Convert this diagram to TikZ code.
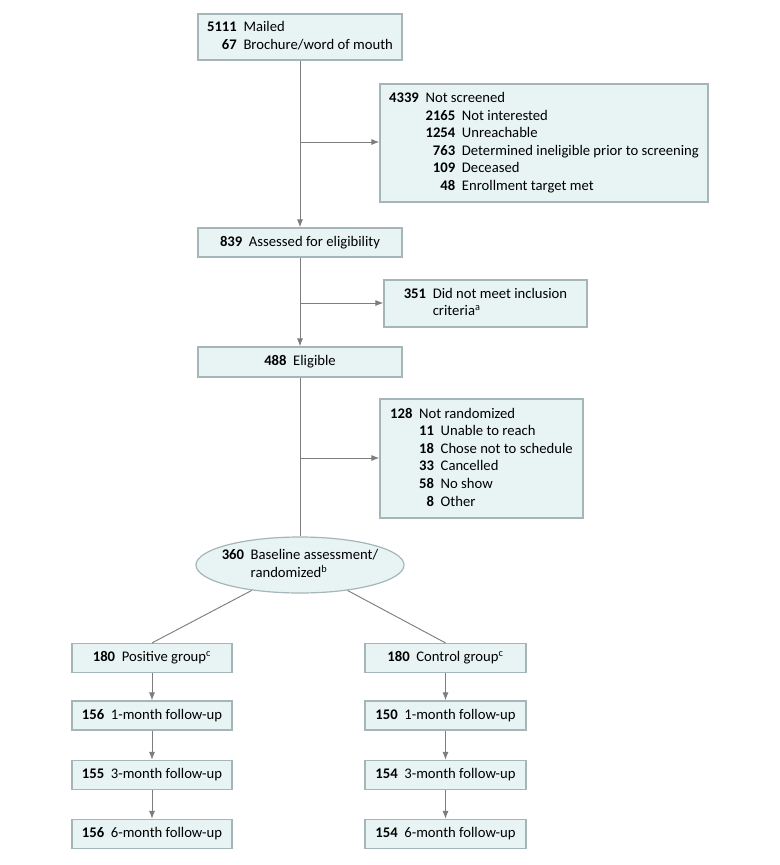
\documentclass[tikz,border=0pt]{standalone}
\usepackage{fontspec}
\setmainfont{Carlito}
\usetikzlibrary{arrows.meta,shapes.geometric}
\definecolor{boxfill}{RGB}{232,244,244}
\definecolor{boxline}{RGB}{165,182,184}
\definecolor{connc}{RGB}{125,125,125}
\begin{document}
\begin{tikzpicture}[x=0.75pt,y=-0.75pt,
  font=\fontsize{11}{13.2}\selectfont,
  box/.style={draw=boxline, fill=boxfill, line width=0.9pt, inner sep=0pt, align=center},
  bx/.style 2 args={box, minimum width=#1*0.75pt, minimum height=#2*0.75pt},
  conn/.style={draw=connc, line width=0.7pt},
  arr/.style={conn, -{Latex[length=6pt,width=4.5pt]}}]
\useasboundingbox (0,0) rectangle (780,865);

\node[bx={204}{46}] (mail) at (300,37) {\begin{tabular}{@{}r@{\hspace{5pt}}l@{}}\textbf{5111} & Mailed\\ \textbf{67} & Brochure/word of mouth\end{tabular}};

\node[bx={328}{118}] (notscr) at (544,143) {\begin{tabular}{@{}r@{\hspace{5pt}}r@{\hspace{5pt}}l@{}}
\textbf{4339} & \multicolumn{2}{@{}l@{}}{Not screened}\\
 & \textbf{2165} & Not interested\\
 & \textbf{1254} & Unreachable\\
 & \textbf{763} & Determined ineligible prior to screening\\
 & \textbf{109} & Deceased\\
 & \textbf{48} & Enrollment target met
\end{tabular}};

\node[bx={204}{29}] (assess) at (300,242.5) {\textbf{839}\hspace{5pt}Assessed for eligibility};

\node[bx={203}{47}] (dnm) at (485.5,303.5) {\begin{tabular}{@{}r@{\hspace{5pt}}l@{}}\textbf{351} & Did not meet inclusion\\ & criteria\textsuperscript{a}\end{tabular}};

\node[bx={204}{30}] (elig) at (300,362) {\textbf{488}\hspace{5pt}Eligible};

\node[bx={203}{119}] (notrand) at (481.5,458.5) {\begin{tabular}{@{}r@{\hspace{5pt}}r@{\hspace{5pt}}l@{}}
\textbf{128} & \multicolumn{2}{@{}l@{}}{Not randomized}\\
 & \textbf{11} & Unable to reach\\
 & \textbf{18} & Chose not to schedule\\
 & \textbf{33} & Cancelled\\
 & \textbf{58} & No show\\
 & \textbf{8} & Other
\end{tabular}};

\node[box, ellipse, minimum width=208*0.75pt, minimum height=56*0.75pt] (rand) at (300,565) {\makebox[0pt]{\begin{tabular}{@{}r@{\hspace{5pt}}l@{}}\textbf{360} & Baseline assessment/\\ & randomized\textsuperscript{b}\end{tabular}}};

\node[bx={160}{29}] (pos) at (152,658) {\textbf{180}\hspace{5pt}Positive group\textsuperscript{c}};
\node[bx={160}{29}] (pos1) at (152,715.5) {\textbf{156}\hspace{5pt}1-month follow-up};
\node[bx={160}{29}] (pos3) at (152,775) {\textbf{155}\hspace{5pt}3-month follow-up};
\node[bx={160}{29}] (pos6) at (152,834) {\textbf{156}\hspace{5pt}6-month follow-up};

\node[bx={161}{29}] (ctl) at (445.5,658) {\textbf{180}\hspace{5pt}Control group\textsuperscript{c}};
\node[bx={161}{29}] (ctl1) at (445.5,715.5) {\textbf{150}\hspace{5pt}1-month follow-up};
\node[bx={161}{29}] (ctl3) at (445.5,775) {\textbf{154}\hspace{5pt}3-month follow-up};
\node[bx={161}{29}] (ctl6) at (445.5,834) {\textbf{154}\hspace{5pt}6-month follow-up};

\coordinate (b1) at (300,142);
\coordinate (b2) at (300,303);
\coordinate (b3) at (300,458);

\draw[arr] (mail) -- (assess);
\draw[arr] (b1) -- (b1 -| notscr.west);
\draw[arr] (assess) -- (elig);
\draw[arr] (b2) -- (b2 -| dnm.west);
\draw[conn] (elig) -- (rand);
\draw[arr] (b3) -- (b3 -| notrand.west);
\draw[conn] (rand) -- (pos.north);
\draw[conn] (rand) -- (ctl.north);
\draw[arr] (pos) -- (pos1);
\draw[arr] (pos1) -- (pos3);
\draw[arr] (pos3) -- (pos6);
\draw[arr] (ctl) -- (ctl1);
\draw[arr] (ctl1) -- (ctl3);
\draw[arr] (ctl3) -- (ctl6);
\end{tikzpicture}
\end{document}
